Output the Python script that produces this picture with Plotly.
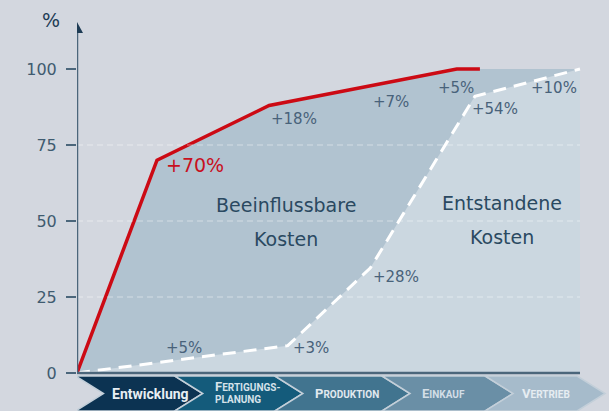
import plotly.graph_objects as go

# ---------------- data ----------------
# process progress (0..100 along the value chain) and cumulative cost share (%)
red_x = [0, 15.9, 38.2, 75.5, 80.1]
red_y = [0, 70, 88, 100, 100]          # beeinflussbare Kosten (cumulative)
dash_x = [0, 41.9, 58.3, 79.1, 100]
dash_y = [0, 9, 34.5, 91, 100]         # entstandene Kosten (cumulative)

stages = ["Entwicklung", "Fertigungsplanung", "Produktion", "Einkauf", "Vertrieb"]
stage_tips = [25.0, 44.9, 66.2, 86.7, 105.0]
stage_colors = ["#0c3352", "#145b7b", "#41748f", "#6a8fa6", "#a6bbcb"]

y_ticks = [0, 25, 50, 75, 100]
y_ticklabels = ["0", "25", "50", "75", "100"]

red_labels = ["+70%", "+18%", "+7%", "+5%"]
dash_labels = ["+5%", "+3%", "+28%", "+54%", "+10%"]

# ---------------- geometry helpers (pixel -> data) ----------------
W, H = 609, 411
L = 77
SX = 5.03          # px per x unit
SY = 3.04          # px per y unit
Y0PX = 373         # pixel row of y=0
XMAX = (W - L) / SX
YMAX = Y0PX / SY
YMIN = -(H - Y0PX) / SY


def px2x(px):
    return (px - L) / SX


def px2y(py):
    return (Y0PX - py) / SY


BG = "#d3d7df"
FILL_A = "#b1c3d0"
FILL_B = "#cbd7e0"
AXIS = "#4b667b"
TXT = "#2a4961"
LBL = "#48627a"
FONT = "DejaVu Sans"

fig = go.Figure()

# area under red line (beeinflussbar)
fig.add_trace(go.Scatter(
    x=red_x[:-1] + [100, 100, 0], y=red_y[:-1] + [100, 0, 0],
    fill="toself", fillcolor=FILL_A, line=dict(width=0), mode="lines",
    hoverinfo="skip", showlegend=False))
# area under dashed line (entstanden)
fig.add_trace(go.Scatter(
    x=dash_x + [100, 0], y=dash_y + [0, 0],
    fill="toself", fillcolor=FILL_B, line=dict(width=0), mode="lines",
    hoverinfo="skip", showlegend=False))

# gridlines 25/50/75
shapes = []
for g in [25, 50, 75]:
    shapes.append(dict(type="line", x0=0, x1=100, y0=g, y1=g, xref="x", yref="y",
                       line=dict(color="rgba(255,255,255,0.45)", width=1, dash="6px,4px"),
                       layer="above"))

# dashed line
fig.add_trace(go.Scatter(x=dash_x, y=dash_y, mode="lines",
                         line=dict(color="white", width=3, dash="13px,8px"),
                         hoverinfo="skip", showlegend=False))
# red line
fig.add_trace(go.Scatter(x=red_x, y=red_y, mode="lines",
                         line=dict(color="#cc0a14", width=3.5),
                         hoverinfo="skip", showlegend=False))

# axes lines
shapes.append(dict(type="line", x0=0, x1=100, y0=0, y1=0, xref="x", yref="y",
                   line=dict(color=AXIS, width=2.5), layer="above"))
shapes.append(dict(type="line", x0=0, x1=0, y0=0, y1=px2y(33), xref="x", yref="y",
                   line=dict(color=AXIS, width=2.5), layer="above"))
ah = 6 / SX
shapes.append(dict(type="path", xref="x", yref="y",
                   path=f"M {-ah},{px2y(33)} L {ah},{px2y(33)} L 0,{px2y(22)} Z",
                   fillcolor="#1e3c55", line=dict(width=0), layer="above"))

# chevrons
top, mid, bot = px2y(376), px2y(393.5), px2y(411)
d = 28 / SX
prev = 0.0
for i, (tip, col) in enumerate(zip(stage_tips, stage_colors)):
    xl = -0.3 if i == 0 else prev - d
    path = (f"M {xl},{top} L {tip - d},{top} L {tip},{mid} L {tip - d},{bot} "
            f"L {xl},{bot} L {xl + d},{mid} Z")
    shapes.append(dict(type="path", xref="x", yref="y", path=path,
                       fillcolor=col, line=dict(color="#c3cfd9", width=1.5), layer="above"))
    prev = tip

annotations = []


def ann(text, px, py, size, color, xanchor="center", bold=False, family=FONT):
    annotations.append(dict(text=text, x=px2x(px), y=px2y(py), xref="x", yref="y",
                            showarrow=False, xanchor=xanchor, yanchor="middle",
                            font=dict(size=size, color=color, family=family,
                                      weight="bold" if bold else "normal")))


# red increments
ann(red_labels[0], 195, 165, 19, "#c8101e")
ann(red_labels[1], 294, 119, 15, LBL)
ann(red_labels[2], 391, 102, 15, LBL)
ann(red_labels[3], 456, 88, 15, LBL)
# dashed increments
ann(dash_labels[0], 184, 348, 15, LBL)
ann(dash_labels[1], 311, 348, 15, LBL)
ann(dash_labels[2], 396, 277, 15, LBL)
ann(dash_labels[3], 495, 109, 15, LBL)
ann(dash_labels[4], 554, 88, 15, LBL)

# area titles
ann("Beeinflussbare", 286, 205, 19, TXT)
ann("Kosten", 286, 239, 19, TXT)
ann("Entstandene", 502, 203, 19, TXT)
ann("Kosten", 502, 237, 19, TXT)

# stage labels
sc = "font-size:10px"
ann(stages[0], 150, 394, 14, "#e8eef3", bold=True, family="Roboto")
ann(f"F<span style='{sc}'>ERTIGUNGS-</span>", 213, 386, 13, "#d5e2ea",
    xanchor="left", bold=True, family="Roboto")
ann(f"<span style='{sc}'>PLANUNG</span>", 213, 399, 13, "#d5e2ea",
    xanchor="left", bold=True, family="Roboto")
ann(f"P<span style='{sc}'>RODUKTION</span>", 347, 393, 13, "#e2e9ef", bold=True, family="Roboto")
ann(f"E<span style='{sc}'>INKAUF</span>", 443, 393, 13, "#d3dee6", bold=True, family="Roboto")
ann(f"V<span style='{sc}'>ERTRIEB</span>", 546, 393, 13, "#e6edf2", bold=True, family="Roboto")

# % label
annotations.append(dict(text="%", x=(51 - L) / (W - L), y=1 - 20 / H, xref="paper", yref="paper",
                        showarrow=False, xanchor="center", yanchor="middle",
                        font=dict(size=19, color="#1e3c55", family=FONT)))

fig.update_layout(
    width=W, height=H,
    margin=dict(l=L, r=0, t=0, b=0, autoexpand=False),
    paper_bgcolor=BG, plot_bgcolor=BG,
    xaxis=dict(range=[0, XMAX], visible=False, fixedrange=True),
    yaxis=dict(range=[YMIN, YMAX], tickvals=y_ticks, ticktext=y_ticklabels,
               ticks="outside", ticklen=10, tickwidth=2, tickcolor=AXIS,
               showgrid=False, zeroline=False, showline=False,
               tickfont=dict(family=FONT, size=16, color="#3f5b70"),
               ticklabelstandoff=6, fixedrange=True),
    shapes=shapes, annotations=annotations,
    showlegend=False,
)

fig.write_html("out.html", config={"displayModeBar": False},
               post_script="document.body.style.margin='0px';document.body.style.padding='0px';"
                           "document.body.style.overflow='hidden';")
